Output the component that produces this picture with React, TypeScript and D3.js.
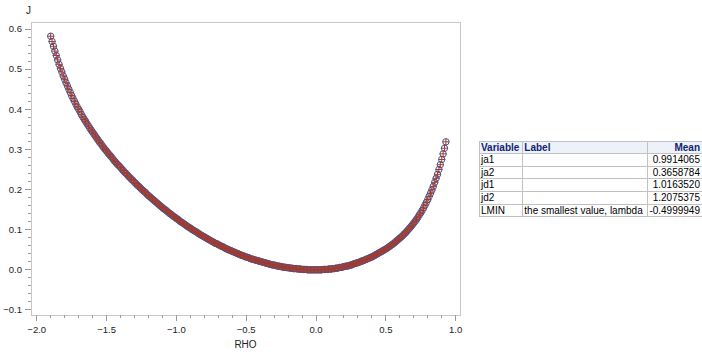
import React from 'react';
import * as d3 from 'd3';

// RHO grid starts at -1.90 and steps by 0.01
const rhoStart = -1.9;
const rhoStep = 0.01;

// J, one value per grid step
const jValues = [
  0.582, 0.569, 0.557, 0.545, 0.534, 0.523, 0.512, 0.502, 0.493, 0.483,
  0.475, 0.466, 0.458, 0.450, 0.442, 0.434, 0.427, 0.420, 0.413, 0.406,
  0.400, 0.394, 0.387, 0.381, 0.375, 0.370, 0.364, 0.359, 0.353, 0.348,
  0.343, 0.338, 0.333, 0.328, 0.323, 0.318, 0.314, 0.309, 0.304, 0.300,
  0.296, 0.291, 0.287, 0.283, 0.279, 0.274, 0.270, 0.266, 0.262, 0.259,
  0.255, 0.251, 0.247, 0.243, 0.240, 0.236, 0.232, 0.229, 0.225, 0.222,
  0.218, 0.215, 0.211, 0.208, 0.205, 0.201, 0.198, 0.195, 0.192, 0.188,
  0.185, 0.182, 0.179, 0.176, 0.173, 0.170, 0.167, 0.164, 0.161, 0.158,
  0.155, 0.152, 0.150, 0.147, 0.144, 0.141, 0.139, 0.136, 0.133, 0.131,
  0.128, 0.126, 0.123, 0.120, 0.118, 0.116, 0.113, 0.111, 0.108, 0.106,
  0.104, 0.101, 0.099, 0.097, 0.095, 0.093, 0.090, 0.088, 0.086, 0.084,
  0.082, 0.080, 0.078, 0.076, 0.074, 0.072, 0.070, 0.068, 0.066, 0.065,
  0.063, 0.061, 0.059, 0.058, 0.056, 0.054, 0.052, 0.051, 0.049, 0.048,
  0.046, 0.045, 0.043, 0.042, 0.040, 0.039, 0.037, 0.036, 0.035, 0.033,
  0.032, 0.031, 0.030, 0.028, 0.027, 0.026, 0.025, 0.024, 0.023, 0.022,
  0.021, 0.020, 0.019, 0.018, 0.017, 0.016, 0.015, 0.014, 0.013, 0.012,
  0.012, 0.011, 0.010, 0.009, 0.009, 0.008, 0.007, 0.007, 0.006, 0.006,
  0.005, 0.005, 0.004, 0.004, 0.003, 0.003, 0.003, 0.002, 0.002, 0.002,
  0.001, 0.001, 0.001, 0.001, 0.000, 0.000, 0.000, 0.000, 0.000, 0.000,
  0.000, 0.000, 0.000, 0.000, 0.000, 0.001, 0.001, 0.001, 0.001, 0.002,
  0.002, 0.002, 0.003, 0.003, 0.004, 0.004, 0.005, 0.006, 0.006, 0.007,
  0.008, 0.009, 0.009, 0.010, 0.011, 0.012, 0.013, 0.015, 0.016, 0.017,
  0.018, 0.019, 0.021, 0.022, 0.023, 0.025, 0.026, 0.028, 0.029, 0.031,
  0.032, 0.034, 0.036, 0.038, 0.040, 0.042, 0.044, 0.046, 0.048, 0.050,
  0.052, 0.054, 0.057, 0.059, 0.062, 0.064, 0.067, 0.070, 0.073, 0.076,
  0.079, 0.082, 0.085, 0.089, 0.092, 0.096, 0.100, 0.104, 0.108, 0.112,
  0.117, 0.121, 0.126, 0.131, 0.137, 0.142, 0.148, 0.154, 0.161, 0.168,
  0.175, 0.183, 0.191, 0.199, 0.208, 0.218, 0.228, 0.238, 0.250, 0.262,
  0.275, 0.289, 0.303, 0.319,
];

const xTicks = [-2.0, -1.5, -1.0, -0.5, 0.0, 0.5, 1.0];
const yTicks = [-0.1, 0.0, 0.1, 0.2, 0.3, 0.4, 0.5, 0.6];

// summary table
const tableHeaders = ['Variable', 'Label', 'Mean'];
const tableVariables = ['ja1', 'ja2', 'jd1', 'jd2', 'LMIN'];
const tableLabels = ['', '', '', '', 'the smallest value, lambda'];
const tableMeans = ['0.9914065', '0.3658784', '1.0163520', '1.2075375', '-0.4999949'];

const W = 702;
const H = 352;
const plot = { left: 31, right: 460, top: 22, bottom: 315 };
const font = '"Liberation Sans", Arial, sans-serif';

const points = jValues.map((j, i) => ({ rho: +(rhoStart + i * rhoStep).toFixed(2), j }));

const App: React.FC = () => {
  const x = d3.scaleLinear().domain([-2.041, 1.031]).range([plot.left, plot.right]);
  const y = d3.scaleLinear().domain([-0.1125, 0.6175]).range([plot.bottom, plot.top]);

  const xMinor = d3.range(-20, 11).map(d => d / 10).filter(d => Math.abs(d * 2 - Math.round(d * 2)) > 1e-6);
  const yMinor = d3.range(-5, 31).map(d => d / 50).filter(d => Math.abs(d * 10 - Math.round(d * 10)) > 1e-6);

  const tickColor = '#9a9a9a';
  const labelColor = '#222222';

  // table geometry
  const colX = [479, 522.3, 647.7, 704];
  const tableTop = 141;
  const rowH = 12.6;
  const nRows = tableVariables.length + 1;
  const tableBottom = tableTop + rowH * nRows;

  return (
    <svg width={W} height={H} style={{ position: 'absolute', left: 0, top: 0, background: '#fff' }} fontFamily={font}>
      <rect x={0} y={0} width={W} height={H} fill="#fff" />

      {/* plot frame */}
      <rect x={plot.left} y={plot.top} width={plot.right - plot.left} height={plot.bottom - plot.top}
        fill="none" stroke="#c8c8c8" strokeWidth={1} shapeRendering="crispEdges" />

      {/* y axis */}
      {yMinor.map(v => (
        <line key={'ym' + v} x1={plot.left - 3} x2={plot.left} y1={y(v)} y2={y(v)} stroke={tickColor} shapeRendering="crispEdges" />
      ))}
      {yTicks.map(v => (
        <g key={'y' + v}>
          <line x1={plot.left - 6} x2={plot.left} y1={y(v)} y2={y(v)} stroke={tickColor} shapeRendering="crispEdges" />
          <text x={22} y={y(v)} dy="0.35em" textAnchor="end" fontSize={9.5} fill={labelColor}>{d3.format('.1f')(v)}</text>
        </g>
      ))}
      <text x={26} y={14} fontSize={10} fill={labelColor}>J</text>

      {/* x axis */}
      {xMinor.map(v => (
        <line key={'xm' + v} x1={x(v)} x2={x(v)} y1={plot.bottom} y2={plot.bottom + 3} stroke={tickColor} shapeRendering="crispEdges" />
      ))}
      {xTicks.map(v => (
        <g key={'x' + v}>
          <line x1={x(v)} x2={x(v)} y1={plot.bottom} y2={plot.bottom + 6} stroke={tickColor} shapeRendering="crispEdges" />
          <text x={x(v)} y={333} textAnchor="middle" fontSize={9.5} fill={labelColor}>{d3.format('.1f')(v)}</text>
        </g>
      ))}
      <text x={(plot.left + plot.right) / 2} y={348} textAnchor="middle" fontSize={10} fill={labelColor}>RHO</text>

      {/* markers: circles then plus signs */}
      {points.map(p => (
        <circle key={'c' + p.rho} cx={x(p.rho)} cy={y(p.j)} r={3.2} fill="none" stroke="#445694" strokeWidth={1} />
      ))}
      {points.map(p => (
        <path key={'p' + p.rho} d={`M${x(p.rho) - 3.5},${y(p.j)}h7M${x(p.rho)},${y(p.j) - 3.5}v7`}
          fill="none" stroke="#a23a2e" strokeWidth={1} />
      ))}

      {/* table */}
      <rect x={colX[0]} y={tableTop} width={colX[3] - colX[0]} height={rowH} fill="#edf2f9" />
      {d3.range(nRows + 1).map(i => (
        <line key={'tr' + i} x1={colX[0]} x2={colX[3]} y1={tableTop + i * rowH} y2={tableTop + i * rowH}
          stroke="#c1c1c1" shapeRendering="crispEdges" />
      ))}
      {colX.slice(0, 3).map((cx, i) => (
        <line key={'tc' + i} x1={cx} x2={cx} y1={tableTop} y2={tableBottom} stroke="#c1c1c1" shapeRendering="crispEdges" />
      ))}
      <text x={colX[0] + 2} y={tableTop + 9.6} fontSize={10} fontWeight="bold" fill="#112277">{tableHeaders[0]}</text>
      <text x={colX[1] + 2} y={tableTop + 9.6} fontSize={10} fontWeight="bold" fill="#112277">{tableHeaders[1]}</text>
      <text x={700} y={tableTop + 9.6} fontSize={10} fontWeight="bold" fill="#112277" textAnchor="end">{tableHeaders[2]}</text>
      {tableVariables.map((v, i) => {
        const ty = tableTop + (i + 1) * rowH + 9.6;
        return (
          <g key={'row' + v} fontSize={10} fill="#000">
            <text x={colX[0] + 2} y={ty}>{v}</text>
            <text x={colX[1] + 2} y={ty}>{tableLabels[i]}</text>
            <text x={700} y={ty} textAnchor="end">{tableMeans[i]}</text>
          </g>
        );
      })}
    </svg>
  );
};

export default App;
